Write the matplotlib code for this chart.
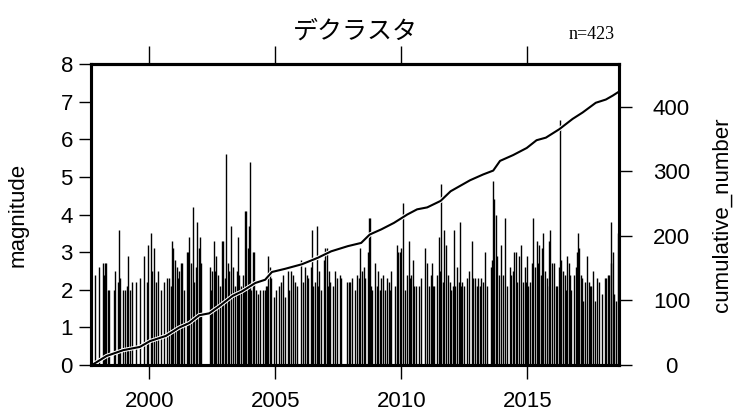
import matplotlib
matplotlib.use("Agg")
import matplotlib.pyplot as plt

## event times (decimal year) and magnitudes
event_year = [
    1997.85, 1998.02, 1998.15, 1998.21, 1998.23, 1998.28, 1998.38, 1998.41, 1998.60, 1998.65,
    1998.76, 1998.81, 1998.86, 1998.97, 1999.02, 1999.10, 1999.17, 1999.23, 1999.30, 1999.47,
    1999.63, 1999.79, 1999.90, 1999.95, 2000.07, 2000.11, 2000.20, 2000.27, 2000.36, 2000.46,
    2000.58,
    2000.69, 2000.77, 2000.85, 2000.90, 2000.95, 2001.03, 2001.09, 2001.14, 2001.19, 2001.25,
    2001.32, 2001.40, 2001.48, 2001.54, 2001.59, 2001.66, 2001.72, 2001.79, 2001.85, 2001.91,
    2001.96, 2002.03, 2002.07, 2002.41, 2002.46, 2002.51, 2002.58, 2002.62, 2002.67, 2002.73,
    2002.81, 2002.89, 2002.94, 2003.02, 2003.06, 2003.11, 2003.18, 2003.26, 2003.34, 2003.39,
    2003.47, 2003.52, 2003.57, 2003.64,
    2003.71, 2003.76, 2003.81, 2003.86, 2003.92, 2003.96, 2004.01, 2004.05, 2004.10, 2004.17,
    2004.23, 2004.31, 2004.39, 2004.53, 2004.58, 2004.63, 2004.68, 2004.72, 2004.79, 2004.84,
    2004.95, 2005.05, 2005.16, 2005.24, 2005.32, 2005.40, 2005.50, 2005.56, 2005.64, 2005.72,
    2005.77, 2005.85, 2006.03, 2006.11, 2006.19, 2006.25, 2006.32, 2006.40, 2006.46, 2006.51,
    2006.59, 2006.64, 2006.70,
    2006.72, 2006.83, 2006.93, 2006.98, 2007.04, 2007.09, 2007.14, 2007.17, 2007.30, 2007.36,
    2007.44, 2007.57, 2007.62, 2007.86, 2007.91, 2007.96, 2008.04, 2008.15, 2008.26, 2008.33,
    2008.37, 2008.44, 2008.52, 2008.57, 2008.68, 2008.73, 2008.77, 2008.81, 2008.86, 2008.97,
    2009.02, 2009.08, 2009.15, 2009.21, 2009.29, 2009.37, 2009.42, 2009.50, 2009.55, 2009.60,
    2009.76, 2009.82, 2009.87, 2009.95, 2010.00, 2010.08, 2010.13, 2010.24, 2010.29, 2010.34,
    2010.40, 2010.45, 2010.50, 2010.58, 2010.71, 2010.79, 2010.95, 2011.01, 2011.09, 2011.17,
    2011.22, 2011.27, 2011.32, 2011.43, 2011.48, 2011.54, 2011.59, 2011.64, 2011.69, 2011.77,
    2011.85, 2011.93, 2011.99, 2012.04, 2012.09, 2012.14, 2012.22, 2012.28, 2012.33, 2012.38,
    2012.43, 2012.49, 2012.62, 2012.70,
    2012.81, 2012.86, 2012.91, 2012.99, 2013.04, 2013.12, 2013.18, 2013.23, 2013.33, 2013.39,
    2013.55, 2013.60, 2013.65, 2013.70, 2013.76, 2013.81, 2013.89, 2013.97, 2014.02, 2014.13,
    2014.18, 2014.31, 2014.37, 2014.42, 2014.47, 2014.55, 2014.60, 2014.68, 2014.76, 2014.82,
    2014.90, 2014.95, 2015.00, 2015.05, 2015.11, 2015.19, 2015.24, 2015.29, 2015.37, 2015.42,
    2015.48, 2015.53, 2015.58, 2015.64, 2015.72,
    2015.80, 2015.85, 2015.87, 2015.91, 2015.98, 2016.06, 2016.14, 2016.19, 2016.27, 2016.31,
    2016.35, 2016.43, 2016.48, 2016.54, 2016.59, 2016.64, 2016.70, 2016.75, 2016.85, 2016.93,
    2016.99, 2017.01, 2017.07, 2017.12, 2017.17, 2017.22, 2017.30, 2017.38, 2017.44, 2017.49,
    2017.54, 2017.62, 2017.70, 2017.78, 2017.83, 2017.96, 2018.07, 2018.12, 2018.20, 2018.25,
    2018.31, 2018.34, 2018.39, 2018.44, 2018.52, 2018.60,
]
event_mag = [
    2.4, 2.6, 2.7, 2.4, 2.7, 2.7, 2.0, 2.0, 2.0, 2.5,
    2.2, 3.6, 2.3, 2.0, 2.0, 2.1, 2.9, 2.0, 2.2, 2.2,
    2.3, 2.9, 2.2, 3.2, 3.5, 2.5, 3.1, 2.2, 2.5, 2.0,
    2.2,
    2.3, 2.3, 2.1, 3.3, 3.1, 2.8, 2.6, 2.3, 2.5, 2.7,
    2.7, 2.0, 3.0, 3.0, 3.4, 2.7, 4.2, 2.2, 2.6, 3.8,
    3.1, 3.4, 2.7, 2.6, 2.0, 2.5, 3.3, 2.5, 2.9, 2.4,
    2.1, 3.3, 3.3, 2.3, 5.6, 2.7, 2.5, 3.7, 2.6, 2.1,
    2.5, 3.4, 2.4, 2.1,
    2.4, 2.0, 4.1, 4.1, 3.1, 3.7, 5.4, 2.0, 3.0, 3.0,
    2.0, 1.9, 2.0, 2.0, 2.0, 2.1, 2.1, 2.9, 2.6, 2.3,
    1.8, 2.0, 2.1, 2.2, 2.4, 1.8, 2.5, 2.0, 2.5, 2.4,
    2.2, 2.1, 2.8, 2.2, 2.6, 2.4, 2.3, 2.6, 3.6, 2.1,
    2.2, 3.7, 2.1,
    2.5, 2.0, 2.8, 3.1, 3.1, 2.1, 2.5, 2.2, 2.1, 2.5,
    2.3, 2.4, 2.3, 2.2, 2.2, 2.2, 2.3, 2.0, 2.4, 2.3,
    3.1, 2.5, 2.6, 2.3, 3.0, 3.9, 3.9, 2.1, 2.0, 2.7,
    2.1, 2.5, 2.0, 2.3, 2.4, 2.0, 2.3, 2.2, 2.0, 2.5,
    2.1, 3.2, 3.0, 3.0, 3.1, 4.3, 2.0, 2.4, 3.3, 2.3,
    2.4, 2.8, 2.1, 2.1, 2.1, 2.3, 3.1, 2.7, 2.1, 2.4,
    2.7, 2.1, 2.1, 2.4, 3.4, 2.5, 4.8, 2.2, 3.6, 3.2,
    2.4, 2.2, 2.0, 2.1, 3.6, 2.1, 2.6, 2.2, 3.8, 2.1,
    2.2, 2.1, 2.3, 2.5,
    3.3, 2.3, 2.3, 2.1, 2.3, 2.1, 2.3, 2.2, 3.0, 2.1,
    2.6, 2.8, 4.9, 4.4, 4.0, 2.9, 2.4, 3.2, 2.4, 3.9,
    2.1, 2.6, 2.4, 2.5, 3.0, 3.0, 2.2, 2.9, 3.2, 2.2,
    2.6, 2.2, 2.9, 2.1, 2.2, 2.7, 3.9, 2.6, 3.3, 2.7,
    3.2, 2.4, 3.1, 3.5, 2.5,
    2.3, 2.1, 3.3, 3.6, 2.7, 2.7, 2.1, 2.1, 2.6, 6.5,
    2.8, 2.5, 2.4, 2.0, 2.9, 2.7, 2.4, 2.0, 2.4, 2.6,
    3.0, 3.5, 3.1, 2.4, 2.3, 1.7, 2.2, 2.9, 2.2, 2.1,
    2.1, 2.5, 1.7, 2.3, 2.2, 1.9, 2.3, 2.3, 2.4, 2.4,
    2.7, 3.8, 3.0, 1.9, 1.7, 3.5,
]

## cumulative number of events
cum_year = [1997.73, 1998.31, 1998.97, 1999.63, 2000.03, 2000.66, 2001.19, 2001.59, 2001.98,
            2002.38, 2002.78, 2003.31, 2003.68, 2004.21, 2004.60, 2004.87, 2005.40, 2006.06,
            2006.69, 2007.22, 2007.88, 2008.41, 2008.75, 2009.21, 2009.71, 2010.24, 2010.63,
            2011.03, 2011.56, 2011.96, 2012.73, 2013.25, 2013.65, 2013.92, 2014.44, 2014.98,
            2015.37, 2015.74, 2016.27, 2016.80, 2017.20, 2017.72, 2018.12, 2018.39, 2018.63]
cum_count = [0, 14, 23, 28, 37, 45, 58, 65, 77, 80, 91, 107, 114, 127, 132, 144, 149, 156,
             166, 176, 184, 189, 202, 210, 220, 233, 241, 244, 254, 269, 286, 295, 301, 316,
             325, 336, 348, 352, 365, 381, 391, 406, 411, 417, 423]

year_ticks = [2000, 2005, 2010, 2015]
n_events = 423

sans = ['Liberation Sans', 'DejaVu Sans']
fs = 16

fig = plt.figure(figsize=(7.35, 4.17), dpi=100)
ax = fig.add_axes([0.1238, 0.1247, 0.7180, 0.7218])

##magnitude bars, snapped to the pixel grid like R's type="h"
ax.vlines(event_year, 0, event_mag, color='black', lw=1.0, snap=True)
ax.set_xlim(1997.69, 2018.63)
ax.set_ylim(0, 8)
ax.set_yticks(range(0, 9))
ax.set_xticks(year_ticks)
ax.set_xticklabels([str(y) for y in year_ticks])
for s in ax.spines.values():
    s.set_linewidth(2.2)
ax.tick_params(axis='x', direction='out', length=10, width=1.0, pad=9, labelsize=fs)
ax.tick_params(axis='y', direction='out', length=9, width=1.0, pad=4, labelsize=fs)
for lab in ax.get_xticklabels() + ax.get_yticklabels():
    lab.set_family(sans)

##top ticks without labels
top = ax.secondary_xaxis('top')
top.set_xticks(year_ticks)
top.tick_params(direction='out', length=13, width=1.0, labeltop=False)
top.spines['top'].set_linewidth(2.2)

##cumulative curve on the right axis
ax2 = ax.twinx()
ax2.plot(cum_year, cum_count, color='white', lw=3.0, solid_capstyle='butt')
ax2.plot(cum_year, cum_count, color='black', lw=1.5)
ax2.set_ylim(0, 466)
ax2.set_yticks([0, 100, 200, 300, 400])
ax2.tick_params(axis='y', direction='out', length=9, width=1.0, pad=29, labelsize=fs)
for lab in ax2.get_yticklabels():
    lab.set_family(sans)
    lab.set_horizontalalignment('center')
for s in ax2.spines.values():
    s.set_linewidth(2.2)

##labels and title
mid_y = 0.1247 + 0.7218 / 2
fig.text(0.025, mid_y, 'magnitude', rotation=90, ha='center', va='center',
         fontsize=fs, family=sans)
fig.text(0.982, mid_y, 'cumulative_number', rotation=90, ha='center', va='center',
         fontsize=fs, family=sans)
fig.text(0.483, 0.925, 'デクラスタ', ha='center', va='center', fontsize=18,
         family=['Noto Sans CJK JP', 'DejaVu Sans'])
fig.text(0.836, 0.918, 'n=%d' % n_events, ha='right', va='center', fontsize=13,
         family=['Liberation Serif', 'DejaVu Serif'])

fig.savefig('out.png', dpi=100)
